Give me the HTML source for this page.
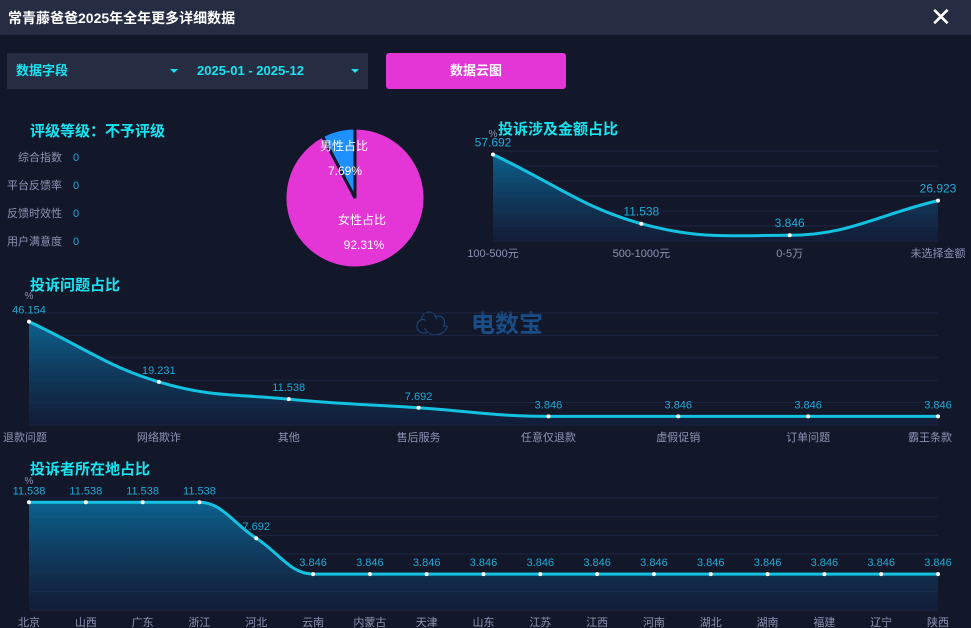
<!DOCTYPE html>
<html><head><meta charset="utf-8"><style>
body{margin:0;width:971px;height:628px;background:#12182a;font-family:"Liberation Sans","Noto Sans CJK SC",sans-serif;overflow:hidden;position:relative}
.hdr{position:absolute;left:0;top:0;width:971px;height:35px;background:#262d42}
.abs{position:absolute}
</style></head><body>
<div class="hdr"></div>
<div class="abs" style="left:8px;top:8px;color:#fff;font-size:14px;font-weight:bold">常青藤爸爸2025年全年更多详细数据</div>
<div class="abs" style="left:930px;top:4px;color:#fff;font-size:26px;line-height:26px">✕</div>
<div class="abs" style="left:7px;top:53px;width:361px;height:36px;background:#262d42"></div>
<div class="abs" style="left:16px;top:53px;line-height:36px;color:#19e3f0;font-size:13px;font-weight:bold">数据字段</div>
<div class="abs" style="left:170px;top:69px;width:0;height:0;border-left:4px solid transparent;border-right:4px solid transparent;border-top:4px solid #19e3f0"></div>
<div class="abs" style="left:197px;top:53px;line-height:36px;color:#19e3f0;font-size:13px;font-weight:bold">2025-01 - 2025-12</div>
<div class="abs" style="left:351px;top:69px;width:0;height:0;border-left:4px solid transparent;border-right:4px solid transparent;border-top:4px solid #19e3f0"></div>
<div class="abs" style="left:386px;top:53px;width:180px;height:36px;background:#e435d6;border-radius:3px;color:#fff;font-size:13px;font-weight:bold;text-align:center;line-height:36px">数据云图</div>
<div class="abs" style="left:30px;top:120px;color:#19e3f0;font-size:15px;font-weight:bold">评级等级：不予评级</div>
<div class="abs" style="left:7px;top:144px;font-size:11px;line-height:28px;color:#8d93b3">
<div><span style="display:inline-block;width:55px;text-align:right">综合指数</span><span style="color:#1fa9d6;margin-left:11px">0</span></div>
<div><span style="display:inline-block;width:55px;text-align:right">平台反馈率</span><span style="color:#1fa9d6;margin-left:11px">0</span></div>
<div><span style="display:inline-block;width:55px;text-align:right">反馈时效性</span><span style="color:#1fa9d6;margin-left:11px">0</span></div>
<div><span style="display:inline-block;width:55px;text-align:right">用户满意度</span><span style="color:#1fa9d6;margin-left:11px">0</span></div>
</div>
<div class="abs" style="left:415px;top:305px;color:#1d5fa8;opacity:.75;font-size:34px;font-weight:bold;line-height:40px">&#9729;<span style="font-size:24px;margin-left:22px;vertical-align:top">电数宝</span></div>
<svg id="svg" width="971" height="628" style="position:absolute;left:0;top:0">
<defs><linearGradient id="ga" x1="0" y1="0" x2="0" y2="1"><stop offset="0" stop-color="#0b6a9a" stop-opacity=".9"/><stop offset="1" stop-color="#132040" stop-opacity=".6"/></linearGradient></defs>
</svg>
<script>
const pieLabels=["男性占比","女性占比"];
const pieValues=[7.69,92.31];
const amtCats=["100-500元","500-1000元","0-5万","未选择金额"];
const amtVals=[57.692,11.538,3.846,26.923];
const probCats=["退款问题","网络欺诈","其他","售后服务","任意仅退款","虚假促销","订单问题","霸王条款"];
const probVals=[46.154,19.231,11.538,7.692,3.846,3.846,3.846,3.846];
const regCats=["北京","山西","广东","浙江","河北","云南","内蒙古","天津","山东","江苏","江西","河南","湖北","湖南","福建","辽宁","陕西"];
const regVals=[11.538,11.538,11.538,11.538,7.692,3.846,3.846,3.846,3.846,3.846,3.846,3.846,3.846,3.846,3.846,3.846,3.846];
const NS="http://www.w3.org/2000/svg";
const svg=document.getElementById('svg');
function mk(t,a,p){const e=document.createElementNS(NS,t);for(const k in a)e.setAttribute(k,a[k]);(p||svg).appendChild(e);return e;}
(function(){
 const cx=355,cy=198,r=70;let start=0;const tot=pieValues.reduce((a,b)=>a+b,0);
 const cols=["#1e90ff","#e435d6"];
 pieValues.forEach((v,i)=>{
  const a0=-start/tot*2*Math.PI, a1=-(start+v)/tot*2*Math.PI;
  const x0=cx+r*Math.sin(a0),y0=cy-r*Math.cos(a0),x1=cx+r*Math.sin(a1),y1=cy-r*Math.cos(a1);
  const large=v/tot>0.5?1:0;
  const p=mk('path',{d:`M${cx},${cy}L${x0},${y0}A${r},${r} 0 ${large} 0 ${x1},${y1}Z`,fill:cols[i],stroke:'#12182a','stroke-width':3});
  
  
  start+=v;
 });
 const l1=mk('text',{x:344,y:150,fill:'#fff','font-size':12,'text-anchor':'middle'});l1.textContent=pieLabels[0];
 
 const l2=mk('text',{x:345,y:175,fill:'#fff','font-size':12,'text-anchor':'middle'});l2.textContent=pieValues[0]+'%';
 
 const l3=mk('text',{x:362,y:224,fill:'#fff','font-size':12,'text-anchor':'middle'});l3.textContent=pieLabels[1];
 
 const l4=mk('text',{x:364,y:249,fill:'#fff','font-size':12,'text-anchor':'middle'});l4.textContent=pieValues[1]+'%';
 
})();
function chart(o){
 const g=mk('g',{});
 const n=o.cats.length, xs=i=>o.x0+(o.x1-o.x0)*i/(n-1), ys=v=>o.y0-(o.y0-o.yTop)*v/o.max;
 for(let k=0;k<=o.grid;k++){const y=ys(o.max*k/o.grid);const l=mk('line',{x1:o.x0,x2:o.x1,y1:y,y2:y,stroke:'#1c2540','stroke-width':1},g);
  }
 const P=o.vals.map((v,i)=>[xs(i),ys(v)]);
 let d=`M${P[0][0]},${P[0][1]}`;
 for(let i=0;i<n-1;i++){const a=P[i],b=P[i+1],dx=(b[0]-a[0])*0.4;
  const pa=P[i-1]||a,pb=P[i+2]||b;
  let s0=(b[1]-pa[1])/(b[0]-pa[0]),s1=(pb[1]-a[1])/(pb[0]-a[0]);
  if((a[1]-pa[1])*(b[1]-a[1])<=0)s0=0; if((pb[1]-b[1])*(b[1]-a[1])<=0)s1=0;
  if(i==0)s0=(b[1]-a[1])/(b[0]-a[0]); if(i==n-2&&pb===b)s1=(b[1]-a[1])/(b[0]-a[0]);
  d+=`C${a[0]+dx},${a[1]+s0*dx} ${b[0]-dx},${b[1]-s1*dx} ${b[0]},${b[1]}`;}
 const ar=mk('path',{d:d+`L${P[n-1][0]},${o.y0}L${P[0][0]},${o.y0}Z`,fill:'url(#ga)'},g);
 
 const ln=mk('path',{d,fill:'none',stroke:'#13c1e0','stroke-width':3},g);
 
 P.forEach((p,i)=>{
  const c=mk('circle',{cx:p[0],cy:p[1],r:2,fill:'#fff'},g);
  
  const t=mk('text',{x:p[0],y:p[1]-8,fill:'#1fa9d6','font-size':o.fs,'text-anchor':'middle'},g);t.textContent=o.vals[i];
  
  const anchor=i==0&&o.edge?'start':(i==n-1&&o.edge?'end':'middle');
  const xl=mk('text',{x:i==0&&o.edge?p[0]-26:(i==n-1&&o.edge?p[0]+14:p[0]),y:o.y0+16,fill:'#8d93b3','font-size':11,'text-anchor':anchor},g);xl.textContent=o.cats[i];
  
 });
 const u=mk('text',{x:o.x0,y:o.yTop-14,fill:'#8d93b3','font-size':10,'text-anchor':'middle'},g);u.textContent='%';
 
 const tt=mk('text',{x:o.tx,y:o.ty,fill:'#19e3f0','font-size':15,'font-weight':'bold'},g);tt.textContent=o.title;
 
}
chart({name:'amount-chart',cats:amtCats,vals:amtVals,x0:493,x1:938,y0:241,yTop:151,max:60,grid:6,title:'投诉涉及金额占比',tx:498,ty:134,fs:12});
chart({name:'problem-chart',cats:probCats,vals:probVals,x0:29,x1:938,y0:425,yTop:313,max:50,grid:5,title:'投诉问题占比',tx:30,ty:290,edge:true,fs:11});
chart({name:'region-chart',cats:regCats,vals:regVals,x0:29,x1:938,y0:610,yTop:498,max:12,grid:6,title:'投诉者所在地占比',tx:30,ty:474,fs:11});
</script>
</body></html>
